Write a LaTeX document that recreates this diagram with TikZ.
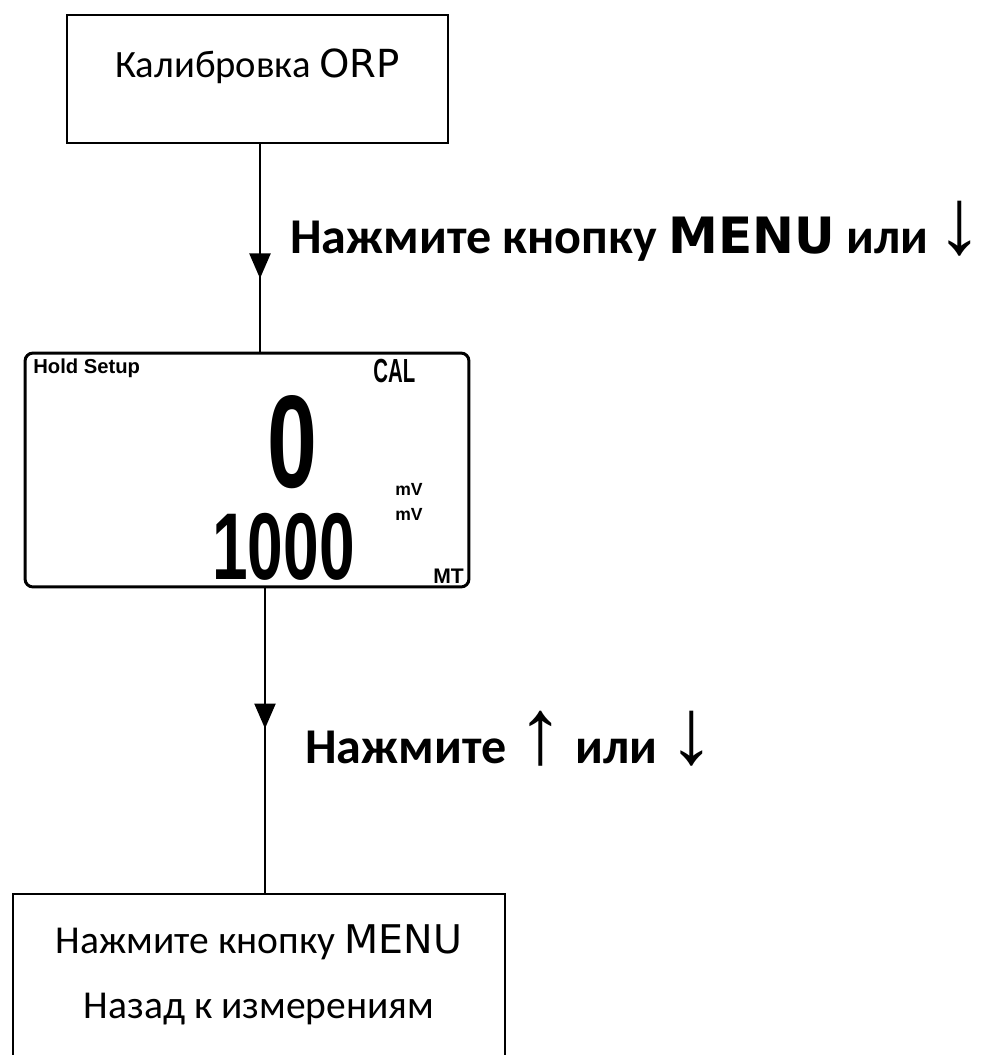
\documentclass[tikz,border=0pt]{standalone}
\usepackage{fontspec}
\usepackage{graphicx}
\setmainfont{Carlito}
\newfontfamily\verdana{DejaVu Sans}
\newfontfamily\lcdfont{Liberation Sans}
\usetikzlibrary{positioning, arrows.meta, decorations.markings}

\tikzset{
  box/.style={draw, rectangle, line width=1.1pt, align=center},
  lcdtext/.style={inner sep=0pt, font=\lcdfont\bfseries\fontsize{#1}{#1}\selectfont},
  hint/.style={inner sep=0pt, font=\fontsize{28.5}{34}\selectfont\bfseries},
  flow/.style={line width=1.3pt,
    decoration={markings, mark=at position #1 with {\arrow{Triangle[width=0.42cm, length=0.5cm]}}},
    postaction={decorate}}
}
\newcommand\keyarrow[1]{{\lcdfont\mdseries\fontsize{53}{53}\selectfont #1}}

\begin{document}
\begin{tikzpicture}[x=0.02cm, y=-0.02cm]
  \useasboundingbox (0,0) rectangle (992,1055);

  \node (calbox) [box, minimum width=7.62cm, minimum height=2.56cm, text height=0.5cm, text depth=0.58cm,
    font=\fontsize{22}{26}\selectfont] at (257.5,79) {Калибровка {\verdana ORP}};

  \node (lcd) [draw, rectangle, rounded corners=0.16cm, line width=1.7pt,
    minimum width=8.88cm, minimum height=4.68cm] at (247,470) {};
  \node (hold) [lcdtext=11.5, anchor=north west] at (33,359) {Hold Setup};
  \node (cal) [lcdtext=19, anchor=north west] at (373,359) {\scalebox{0.61}[1]{CAL}};
  \node (bigread) [lcdtext=75, anchor=north west] at (267,395) {\scalebox{0.68}[1]{0}};
  \node (smallread) [lcdtext=54, anchor=north west] at (212,513) {\scalebox{0.675}[1]{1000}};
  \node (mvtop) [lcdtext=10, anchor=base west] at (395,495) {mV};
  \node (mvlow) [lcdtext=10, anchor=base west] at (395,520) {mV};
  \node (mt) [lcdtext=12, anchor=base west] at (433,583) {MT};

  \node (backbox) [box, anchor=north, minimum width=9.84cm, inner ysep=0.62cm,
    font=\fontsize{22.5}{37}\selectfont] at (259,893) {Нажмите кнопку {\verdana MENU}\\Назад к измерениям};

  \node (menuhint) [hint, anchor=base west] at (290,253) {Нажмите кнопку {\verdana\bfseries MENU} или\,\keyarrow{↓}};
  \node (arrowhint) [hint, anchor=base west] at (305,763) {Нажмите \keyarrow{↑} или \keyarrow{↓}};

  \coordinate (upx) at (260,0);
  \coordinate (lowx) at (265,0);
  \draw [flow=0.648] (calbox.south -| upx) -- (lcd.north -| upx);
  \draw [flow=0.46] (lcd.south -| lowx) -- (backbox.north -| lowx);
\end{tikzpicture}
\end{document}
